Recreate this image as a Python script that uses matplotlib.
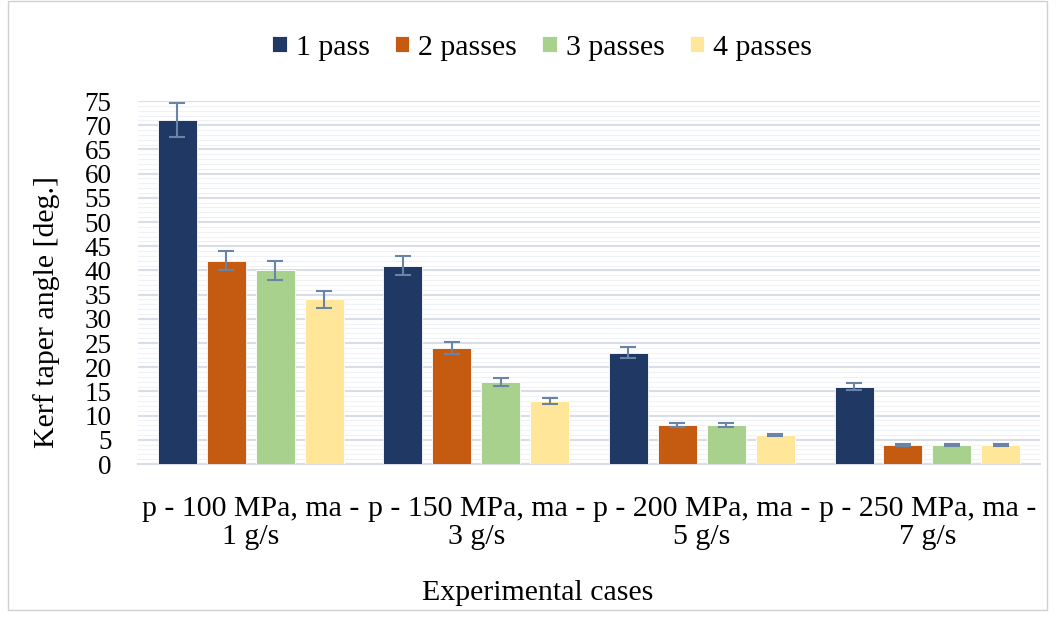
import matplotlib.pyplot as plt
import matplotlib.patches as mpatches
from matplotlib.ticker import MultipleLocator
import numpy as np

plt.rcParams['font.family'] = ['Liberation Serif', 'DejaVu Serif']

cases = ["p - 100 MPa, ma -\n1 g/s", "p - 150 MPa, ma -\n3 g/s",
         "p - 200 MPa, ma -\n5 g/s", "p - 250 MPa, ma -\n7 g/s"]
series = ["1 pass", "2 passes", "3 passes", "4 passes"]
pass1 = [71, 41, 23, 16]
pass2 = [42, 24, 8, 4]
pass3 = [40, 17, 8, 4]
pass4 = [34, 13, 6, 4]
err1 = [3.5, 2.0, 1.2, 0.8]
err2 = [2.0, 1.2, 0.4, 0.2]
err3 = [2.0, 0.8, 0.4, 0.2]
err4 = [1.7, 0.6, 0.3, 0.2]
colors = ["#203864", "#C55A11", "#A9D18E", "#FFE699"]

values = [pass1, pass2, pass3, pass4]
errors = [err1, err2, err3, err4]

fig = plt.figure(figsize=(10.57, 6.19), dpi=100)
ax = fig.add_axes([0.1306, 0.2504, 0.8535, 0.5864])

x = np.arange(len(cases))
step = 0.217
width = 0.173
for i, (vals, errs) in enumerate(zip(values, errors)):
    pos = x + (i - 1.5) * step
    ax.bar(pos, vals, width, color=colors[i], label=series[i],
           edgecolor='white', linewidth=0.6, zorder=3)
    ax.errorbar(pos, vals, yerr=errs, fmt='none', ecolor='#6A84A8',
                elinewidth=1.5, capsize=6, capthick=1.5, zorder=4)

ax.set_xlim(-0.5, 3.5)
ax.set_ylim(0, 75)
ax.yaxis.set_major_locator(MultipleLocator(5))
ax.yaxis.set_minor_locator(MultipleLocator(1))
ax.grid(which='major', axis='y', color='#D9DEE6', linewidth=1.5, zorder=0)
ax.grid(which='minor', axis='y', color='#EEF1F5', linewidth=0.8, zorder=0)
ax.set_axisbelow(True)
for s in ['top', 'right', 'left']:
    ax.spines[s].set_visible(False)
ax.spines['bottom'].set_color('#D9DEE6')
ax.spines['bottom'].set_linewidth(1.5)
ax.tick_params(axis='both', which='both', length=0)
ax.tick_params(axis='y', labelsize=19.5, pad=19)
ax.tick_params(axis='x', labelsize=21.5, pad=23)
ax.set_xticks(x)
ax.set_xticklabels(cases, linespacing=1.1)
ax.set_ylabel("Kerf taper angle [deg.]", fontsize=21.5)
ax.yaxis.set_label_coords(-0.086, 0.42)
ax.set_xlabel("Experimental cases", fontsize=21.5)
ax.xaxis.set_label_coords(0.4435, -0.32)

fig.legend(loc='center', bbox_to_anchor=(0.513, 0.923), ncol=4, frameon=False,
           fontsize=21.5, handlelength=0.48, handleheight=0.48, handletextpad=0.3,
           columnspacing=0.85)

fig.patches.append(mpatches.Rectangle((0.008, 0.014), 0.983, 0.985, transform=fig.transFigure,
                                      fill=False, edgecolor='#D0D0D0', linewidth=1))

fig.savefig("out.png", dpi=100)
